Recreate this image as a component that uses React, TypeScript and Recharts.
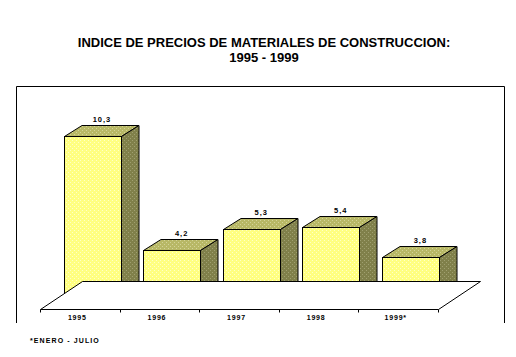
import { Bar, BarChart, LabelList, ReferenceLine, XAxis, YAxis } from "recharts";

const years = ["1995", "1996", "1997", "1998", "1999*"];
const values = [10.3, 4.2, 5.3, 5.4, 3.8];
const titleLines = ["INDICE DE PRECIOS DE MATERIALES DE CONSTRUCCION:", "1995 - 1999"];
const footnote = "*ENERO - JULIO";

const data = years.map((year, i) => ({ year, value: values[i] }));

const W = 516;
const H = 357;
const FONT = "'Liberation Sans', Arial, sans-serif";
// 3d depth of the boxes and the floor
const DX = 17.5;
const DY = 11;
const Y_MIN = 1.5;

function Box(props: any) {
  const x = Math.round(props.x) + 0.5;
  const y = Math.round(props.y) + 0.5;
  const w = Math.round(props.width);
  const h = Math.round(props.height);
  return (
    <g stroke="#000" strokeWidth={1}>
      <path d={`M${x},${y} L${x + DX},${y - DY} L${x + w + DX},${y - DY} L${x + w},${y} Z`} fill="url(#dotTop)" />
      <path d={`M${x + w},${y} L${x + w + DX},${y - DY} L${x + w + DX},${y + h - DY} L${x + w},${y + h} Z`} fill="url(#dotSide)" />
      <rect x={x} y={y} width={w} height={h} fill="url(#dotFront)" />
    </g>
  );
}

function Floor(props: any) {
  const { x1, x2, y1 } = props;
  const fx1 = Math.round(x1 - 12.5) + 0.5;
  const fx2 = Math.round(x2 - 12.5) + 0.5;
  const fy = Math.round(y1 + 9) + 0.5;
  const by = Math.round(y1 - 19) + 0.5;
  const bx1 = Math.round(x1 + 29.5) + 0.5;
  const bx2 = Math.round(x2 + 29.5) + 0.5;
  const step = (x2 - x1) / years.length;
  return (
    <g stroke="#000" strokeWidth={1} fill="#fff">
      <path d={`M${fx1},${fy} L${bx1},${by} L${bx2},${by} L${fx2},${fy} Z`} />
      {Array.from({ length: years.length + 1 }, (_, i) => {
        const tx = Math.round(x1 - 12.5 + i * step) + 0.5;
        return <line key={i} x1={tx} y1={fy} x2={tx} y2={fy + 3} />;
      })}
    </g>
  );
}

function YearTick(props: any) {
  const { x, payload } = props;
  return (
    <text x={x - 15} y={320} textAnchor="middle" fontSize={7} fontWeight="bold" fontFamily={FONT} letterSpacing={0.8} fill="#000">
      {payload.value}
    </text>
  );
}

function ValueLabel(props: any) {
  const { x, y, width, value } = props;
  return (
    <text x={x + width / 2 + 10} y={y - 14} textAnchor="middle" fontSize={7.5} fontWeight="bold" fontFamily={FONT} letterSpacing={1} fill="#000">
      {String(value).replace(".", ",")}
    </text>
  );
}

function DotPattern({ id, base, dot }: { id: string; base: string; dot: string }) {
  return (
    <pattern id={id} width={4} height={4} patternUnits="userSpaceOnUse">
      <rect width={4} height={4} fill={base} />
      <rect x={0} y={0} width={1} height={1} fill={dot} />
      <rect x={2} y={2} width={1} height={1} fill={dot} />
    </pattern>
  );
}

export default function App() {
  return (
    <div style={{ position: "absolute", left: 0, top: 0, width: W, height: H, background: "#fff" }}>
      <svg width={W} height={H} style={{ position: "absolute", left: 0, top: 0 }}>
        <defs>
          <DotPattern id="dotFront" base="#ffff80" dot="#ffffc8" />
          <DotPattern id="dotTop" base="#b8b866" dot="#d4d498" />
          <DotPattern id="dotSide" base="#80804a" dot="#a0a070" />
        </defs>
        <path d="M16.5,323 L16.5,86.5 L504.5,86.5 L504.5,323" fill="none" stroke="#000" strokeWidth={1} />
        <text x={264} y={47} textAnchor="middle" fontSize={13} fontWeight="bold" fontFamily={FONT}>{titleLines[0]}</text>
        <text x={264} y={62} textAnchor="middle" fontSize={13} fontWeight="bold" fontFamily={FONT}>{titleLines[1]}</text>
        <text x={30} y={343} fontSize={7} fontWeight="bold" fontFamily={FONT} letterSpacing={1.1}>{footnote}</text>
      </svg>
      <div style={{ position: "absolute", left: 0, top: 0 }}>
        <BarChart width={W} height={H} data={data} margin={{ top: 104, right: 65.5, bottom: 27, left: 52.5 }}>
          <ReferenceLine y={Y_MIN} shape={Floor} ifOverflow="visible" />
          <XAxis dataKey="year" height={30} axisLine={false} tickLine={false} tick={YearTick} interval={0} />
          <YAxis hide domain={[Y_MIN, 12]} type="number" allowDataOverflow />
          <Bar dataKey="value" barSize={57} shape={Box} isAnimationActive={false}>
            <LabelList dataKey="value" content={ValueLabel} />
          </Bar>
        </BarChart>
      </div>
    </div>
  );
}
